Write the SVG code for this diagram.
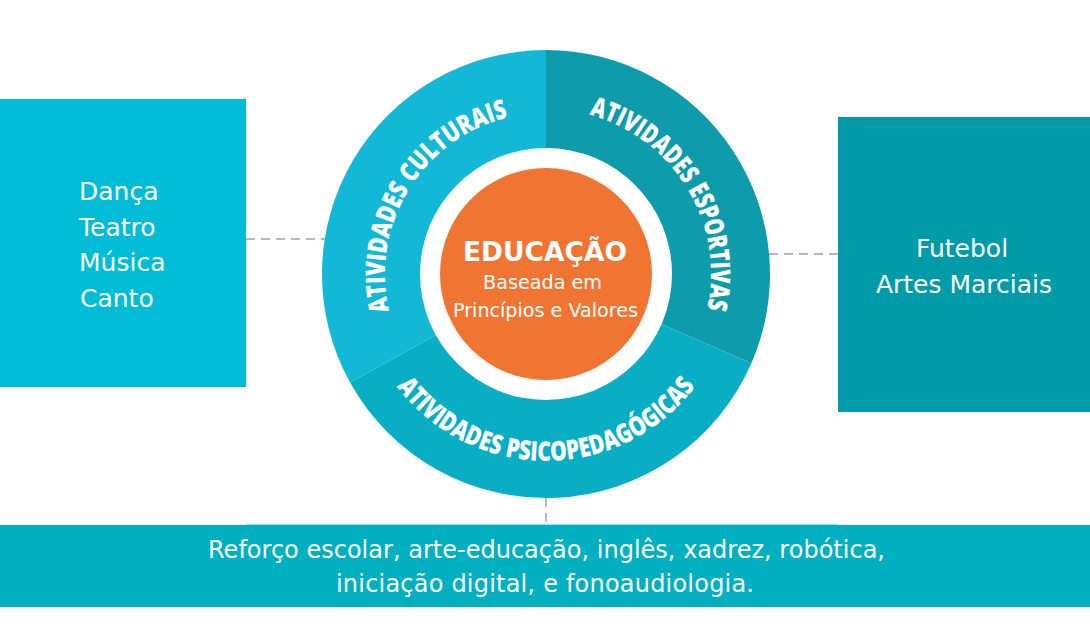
<svg xmlns="http://www.w3.org/2000/svg" width="1090" height="634" viewBox="0 0 1090 634">
  <style>
    .box-text { font-family: "DejaVu Sans", "Liberation Sans", sans-serif; font-size: 25px; fill: #ffffff; }
    .band-text { font-family: "DejaVu Sans", "Liberation Sans", sans-serif; font-size: 24px; fill: #ffffff; text-anchor: middle; }
    .arc-text { font-family: "Open Sans", "Liberation Sans", sans-serif; font-weight: 800; font-size: 27px; fill: #ffffff; }
    .dash { stroke: #b8b8b8; stroke-width: 2; stroke-dasharray: 9 6; fill: none; }
    .center-title { font-family: "DejaVu Sans", "Liberation Sans", sans-serif; font-weight: 700; font-size: 26px; fill: #ffffff; text-anchor: middle; }
    .center-sub { font-family: "DejaVu Sans", "Liberation Sans", sans-serif; font-size: 20px; fill: #ffffff; text-anchor: middle; }
  </style>
  <defs>
    <path id="arcCult" d="M389.3,311.0 A161,161 0 0 1 508.4,117.4"/>
    <path id="arcEsp" d="M589.3,114.8 A165,165 0 0 1 707.0,310.0"/>
    <path id="arcPsi" d="M396.7,386.5 A187,187 0 0 0 695.3,386.5"/>
  </defs>
  <rect width="1090" height="634" fill="#ffffff"/>

  <g id="connectors">
    <line class="dash" x1="246" y1="239" x2="325" y2="239"/>
    <line class="dash" x1="769" y1="254" x2="838" y2="254"/>
    <line class="dash" x1="546" y1="498" x2="546" y2="524"/>
    <line x1="246" y1="524.5" x2="838" y2="524.5" stroke="#a6dbe2" stroke-width="1.5"/>
  </g>

  <g id="box-culturais">
    <rect x="0" y="99" width="246" height="288" fill="#00bcd6"/>
    <text class="box-text" x="79" y="200">Dança</text>
    <text class="box-text" x="79" y="236">Teatro</text>
    <text class="box-text" x="79" y="271">Música</text>
    <text class="box-text" x="80" y="307">Canto</text>
  </g>

  <g id="box-esportivas">
    <rect x="838" y="117" width="252" height="295" fill="#009ba8"/>
    <text class="box-text" x="962" y="257" text-anchor="middle">Futebol</text>
    <text class="box-text" x="964" y="293" text-anchor="middle">Artes Marciais</text>
  </g>

  <g id="band-psicopedagogicas">
    <rect x="0" y="525" width="1090" height="82" fill="#00afc0"/>
    <text class="band-text" x="546.5" y="558" textLength="677">Reforço escolar, arte-educação, inglês, xadrez, robótica,</text>
    <text class="band-text" x="545" y="592" textLength="418">iniciação digital, e fonoaudiologia.</text>
  </g>

  <g id="wheel">
    <path id="seg-culturais" d="M546,274 L350.1,382.6 A224,224 0 0 1 546,50 Z" fill="#12b8d6"/>
    <path id="seg-esportivas" d="M546,274 L546,50 A224,224 0 0 1 751.4,363.3 Z" fill="#0e9cac"/>
    <path id="seg-psico" d="M546,274 L751.4,363.3 A224,224 0 0 1 350.1,382.6 Z" fill="#0aaec4"/>
    <circle cx="546" cy="274" r="126" fill="#ffffff"/>
    <text class="arc-text"><textPath href="#arcCult" startOffset="0" textLength="127" lengthAdjust="spacingAndGlyphs">ATIVIDADES</textPath></text>
    <text class="arc-text"><textPath href="#arcCult" startOffset="133" textLength="119" lengthAdjust="spacingAndGlyphs">CULTURAIS</textPath></text>
    <text class="arc-text"><textPath href="#arcEsp" startOffset="0" textLength="121" lengthAdjust="spacingAndGlyphs">ATIVIDADES</textPath></text>
    <text class="arc-text"><textPath href="#arcEsp" startOffset="126.6" textLength="124" lengthAdjust="spacingAndGlyphs">ESPORTIVAS</textPath></text>
    <text class="arc-text"><textPath href="#arcPsi" startOffset="0" textLength="125.6" lengthAdjust="spacingAndGlyphs">ATIVIDADES</textPath></text>
    <text class="arc-text"><textPath href="#arcPsi" startOffset="131.3" textLength="214.6" lengthAdjust="spacingAndGlyphs">PSICOPEDAGÓGICAS</textPath></text>
  </g>

  <g id="center-educacao">
    <circle cx="546" cy="274" r="106" fill="#f07532"/>
    <text class="center-title" x="545" y="261" textLength="164" lengthAdjust="spacingAndGlyphs">EDUCAÇÃO</text>
    <text class="center-sub" x="542.5" y="289" textLength="119" lengthAdjust="spacingAndGlyphs">Baseada em</text>
    <text class="center-sub" x="545.5" y="317" textLength="185" lengthAdjust="spacingAndGlyphs">Princípios e Valores</text>
  </g>
</svg>
